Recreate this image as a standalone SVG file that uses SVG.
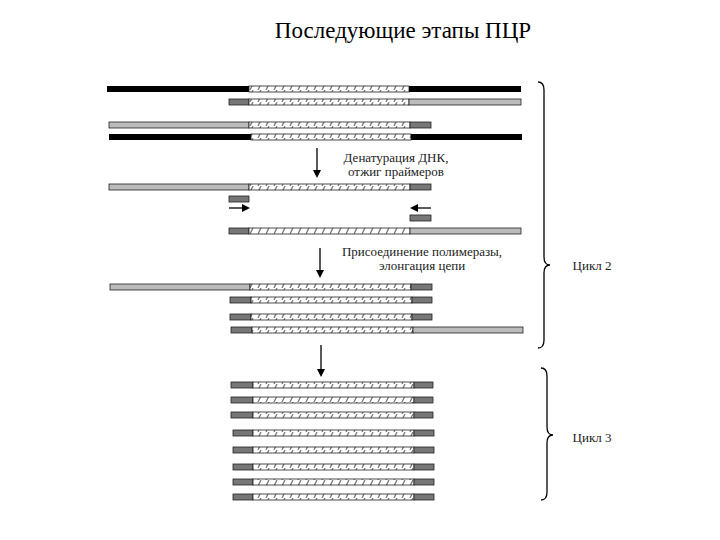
<svg xmlns="http://www.w3.org/2000/svg" width="720" height="540" viewBox="0 0 720 540">
<defs>
<pattern id="h" width="8" height="6" patternUnits="userSpaceOnUse"><rect width="8" height="6" fill="#fff"/><path d="M2,6 L5,0" stroke="#777" stroke-width="1.3"/></pattern>
<marker id="a" markerWidth="8" markerHeight="8" refX="6" refY="4" orient="auto" markerUnits="userSpaceOnUse"><path d="M0,0 L8,4 L0,8 z" fill="#000"/></marker>
</defs>
<style>
.k{fill:#000}.d{fill:#777;stroke:#222;stroke-width:0.8}.l{fill:#bbb;stroke:#222;stroke-width:0.8}.h{fill:url(#h);stroke:#222;stroke-width:0.8}
.t{font-family:"Liberation Serif",serif;font-size:13px;fill:#222;text-anchor:middle}
.ln{stroke:#000;stroke-width:1.3;fill:none}
</style>
<rect width="720" height="540" fill="#fff"/>
<text x="403" y="38" style="font-family:'Liberation Serif',serif;font-size:23px;text-anchor:middle">Последующие этапы ПЦР</text>
<g id="strands">
<rect class="k" x="107" y="86" width="142" height="6"/><rect class="h" x="249" y="86" width="160" height="6"/><rect class="k" x="409" y="86" width="112" height="6"/>
<rect class="d" x="229" y="99" width="20" height="6"/><rect class="h" x="249" y="99" width="160" height="6"/><rect class="l" x="409" y="99" width="112" height="6"/>
<rect class="l" x="109" y="122" width="140" height="6"/><rect class="h" x="249" y="122" width="161" height="6"/><rect class="d" x="410" y="122" width="21" height="6"/>
<rect class="k" x="109" y="134" width="142" height="6"/><rect class="h" x="251" y="134" width="160" height="6"/><rect class="k" x="411" y="134" width="111" height="6"/>
<rect class="l" x="109" y="184" width="140" height="6"/><rect class="h" x="249" y="184" width="161" height="6"/><rect class="d" x="410" y="184" width="21" height="6"/>
<rect class="d" x="229" y="196" width="20" height="6"/>
<rect class="d" x="410" y="215" width="21" height="6"/>
<rect class="d" x="229" y="228" width="20" height="6"/><rect class="h" x="249" y="228" width="161" height="6"/><rect class="l" x="410" y="228" width="111" height="6"/>
<rect class="l" x="110" y="284" width="140" height="6"/><rect class="h" x="250" y="284" width="161" height="6"/><rect class="d" x="411" y="284" width="21" height="6"/>
<rect class="d" x="230" y="297" width="21" height="6"/><rect class="h" x="251" y="297" width="161" height="6"/><rect class="d" x="412" y="297" width="20" height="6"/>
<rect class="d" x="230" y="314" width="21" height="6"/><rect class="h" x="251" y="314" width="161" height="6"/><rect class="d" x="412" y="314" width="20" height="6"/>
<rect class="d" x="231" y="327" width="21" height="6"/><rect class="h" x="252" y="327" width="161" height="6"/><rect class="l" x="413" y="327" width="110" height="6"/>
<rect class="d" x="231" y="382" width="22" height="6"/><rect class="h" x="253" y="382" width="161" height="6"/><rect class="d" x="414" y="382" width="19" height="6"/>
<rect class="d" x="231" y="397" width="22" height="6"/><rect class="h" x="253" y="397" width="161" height="6"/><rect class="d" x="414" y="397" width="19" height="6"/>
<rect class="d" x="231" y="412" width="22" height="6"/><rect class="h" x="253" y="412" width="161" height="6"/><rect class="d" x="414" y="412" width="19" height="6"/>
<rect class="d" x="233" y="430" width="20" height="6"/><rect class="h" x="253" y="430" width="161" height="6"/><rect class="d" x="414" y="430" width="20" height="6"/>
<rect class="d" x="233" y="447" width="20" height="6"/><rect class="h" x="253" y="447" width="161" height="6"/><rect class="d" x="414" y="447" width="20" height="6"/>
<rect class="d" x="233" y="464" width="20" height="6"/><rect class="h" x="253" y="464" width="161" height="6"/><rect class="d" x="414" y="464" width="20" height="6"/>
<rect class="d" x="233" y="479" width="20" height="6"/><rect class="h" x="253" y="479" width="161" height="6"/><rect class="d" x="414" y="479" width="20" height="6"/>
<rect class="d" x="233" y="494" width="20" height="6"/><rect class="h" x="253" y="494" width="161" height="6"/><rect class="d" x="414" y="494" width="20" height="6"/>
</g>
<g id="connectors">
<line class="ln" x1="317" y1="148" x2="317" y2="176" marker-end="url(#a)"/>
<line class="ln" x1="229" y1="208" x2="248" y2="208" marker-end="url(#a)"/>
<line class="ln" x1="431" y1="208" x2="412" y2="208" marker-end="url(#a)"/>
<line class="ln" x1="320" y1="248" x2="320" y2="276" marker-end="url(#a)"/>
<line class="ln" x1="321" y1="345" x2="321" y2="375" marker-end="url(#a)"/>
<path class="ln" d="M538,82 Q544,82 544,90 L544,257 Q544,265 550,265 Q544,265 544,273 L544,340 Q544,348 538,348"/>
<path class="ln" d="M541,368 Q547,368 547,376 L547,427 Q547,435 553,435 Q547,435 547,443 L547,492 Q547,500 541,500"/>
</g>
<g id="labels">
<text class="t" x="396" y="162">Денатурация ДНК,</text>
<text class="t" x="396" y="176">отжиг праймеров</text>
<text class="t" x="422" y="256">Присоединение полимеразы,</text>
<text class="t" x="422" y="270">элонгация цепи</text>
<text class="t" x="592" y="270">Цикл 2</text>
<text class="t" x="592" y="442">Цикл 3</text>
</g>
</svg>
